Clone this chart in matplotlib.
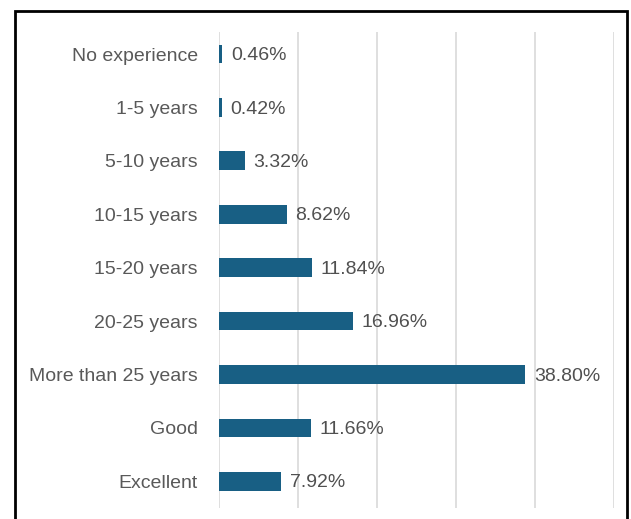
import matplotlib.pyplot as plt
from matplotlib.patches import Rectangle

categories = ["No experience", "1-5 years", "5-10 years", "10-15 years", "15-20 years",
              "20-25 years", "More than 25 years", "Good", "Excellent"]
values = [0.46, 0.42, 3.32, 8.62, 11.84, 16.96, 38.80, 11.66, 7.92]
labels = ["0.46%", "0.42%", "3.32%", "8.62%", "11.84%", "16.96%", "38.80%", "11.66%", "7.92%"]
xticks = [0, 10, 20, 30, 40, 50]

plt.rcParams['font.family'] = ['Liberation Sans', 'DejaVu Sans']
W, H = 631, 519
fig = plt.figure(figsize=(W / 100, H / 100), dpi=100)

# plot area in pixel coordinates
left, right, top, bottom = 218.5, 614, 27.3, 508
ax = fig.add_axes([left / W, 1 - bottom / H, (right - left) / W, (bottom - top) / H])

n = len(categories)
ypos = list(range(n))
ax.barh(ypos, values, height=0.35, color="#185F84", zorder=3)
for y, v, lab in zip(ypos, values, labels):
    ax.text(v + 1.1, y + 0.03, lab, va="center", ha="left", fontsize=14, color="#505050")

ax.set_xlim(0, 50)
ax.set_ylim(n - 0.5, -0.5)
ax.set_xticks(xticks)
ax.set_xticklabels([])
ax.tick_params(axis="x", length=0)
ax.tick_params(axis="y", length=0, pad=15)
ax.set_yticks(ypos)
ax.set_yticklabels(categories, fontsize=14, color="#595959")
# vertical gridlines start a little below the top of the category band
ax.vlines(xticks, -0.41, n - 0.5, color="#d9d9d9", linewidth=1.2, zorder=0)
for s in ax.spines.values():
    s.set_visible(False)

# outer frame around the chart
fig.patches.append(Rectangle((15 / W, -0.05), (627 - 15) / W, 1.05 - 11 / H,
                             transform=fig.transFigure, fill=False,
                             edgecolor="black", linewidth=2, zorder=10))

fig.savefig("out.png", dpi=100)
